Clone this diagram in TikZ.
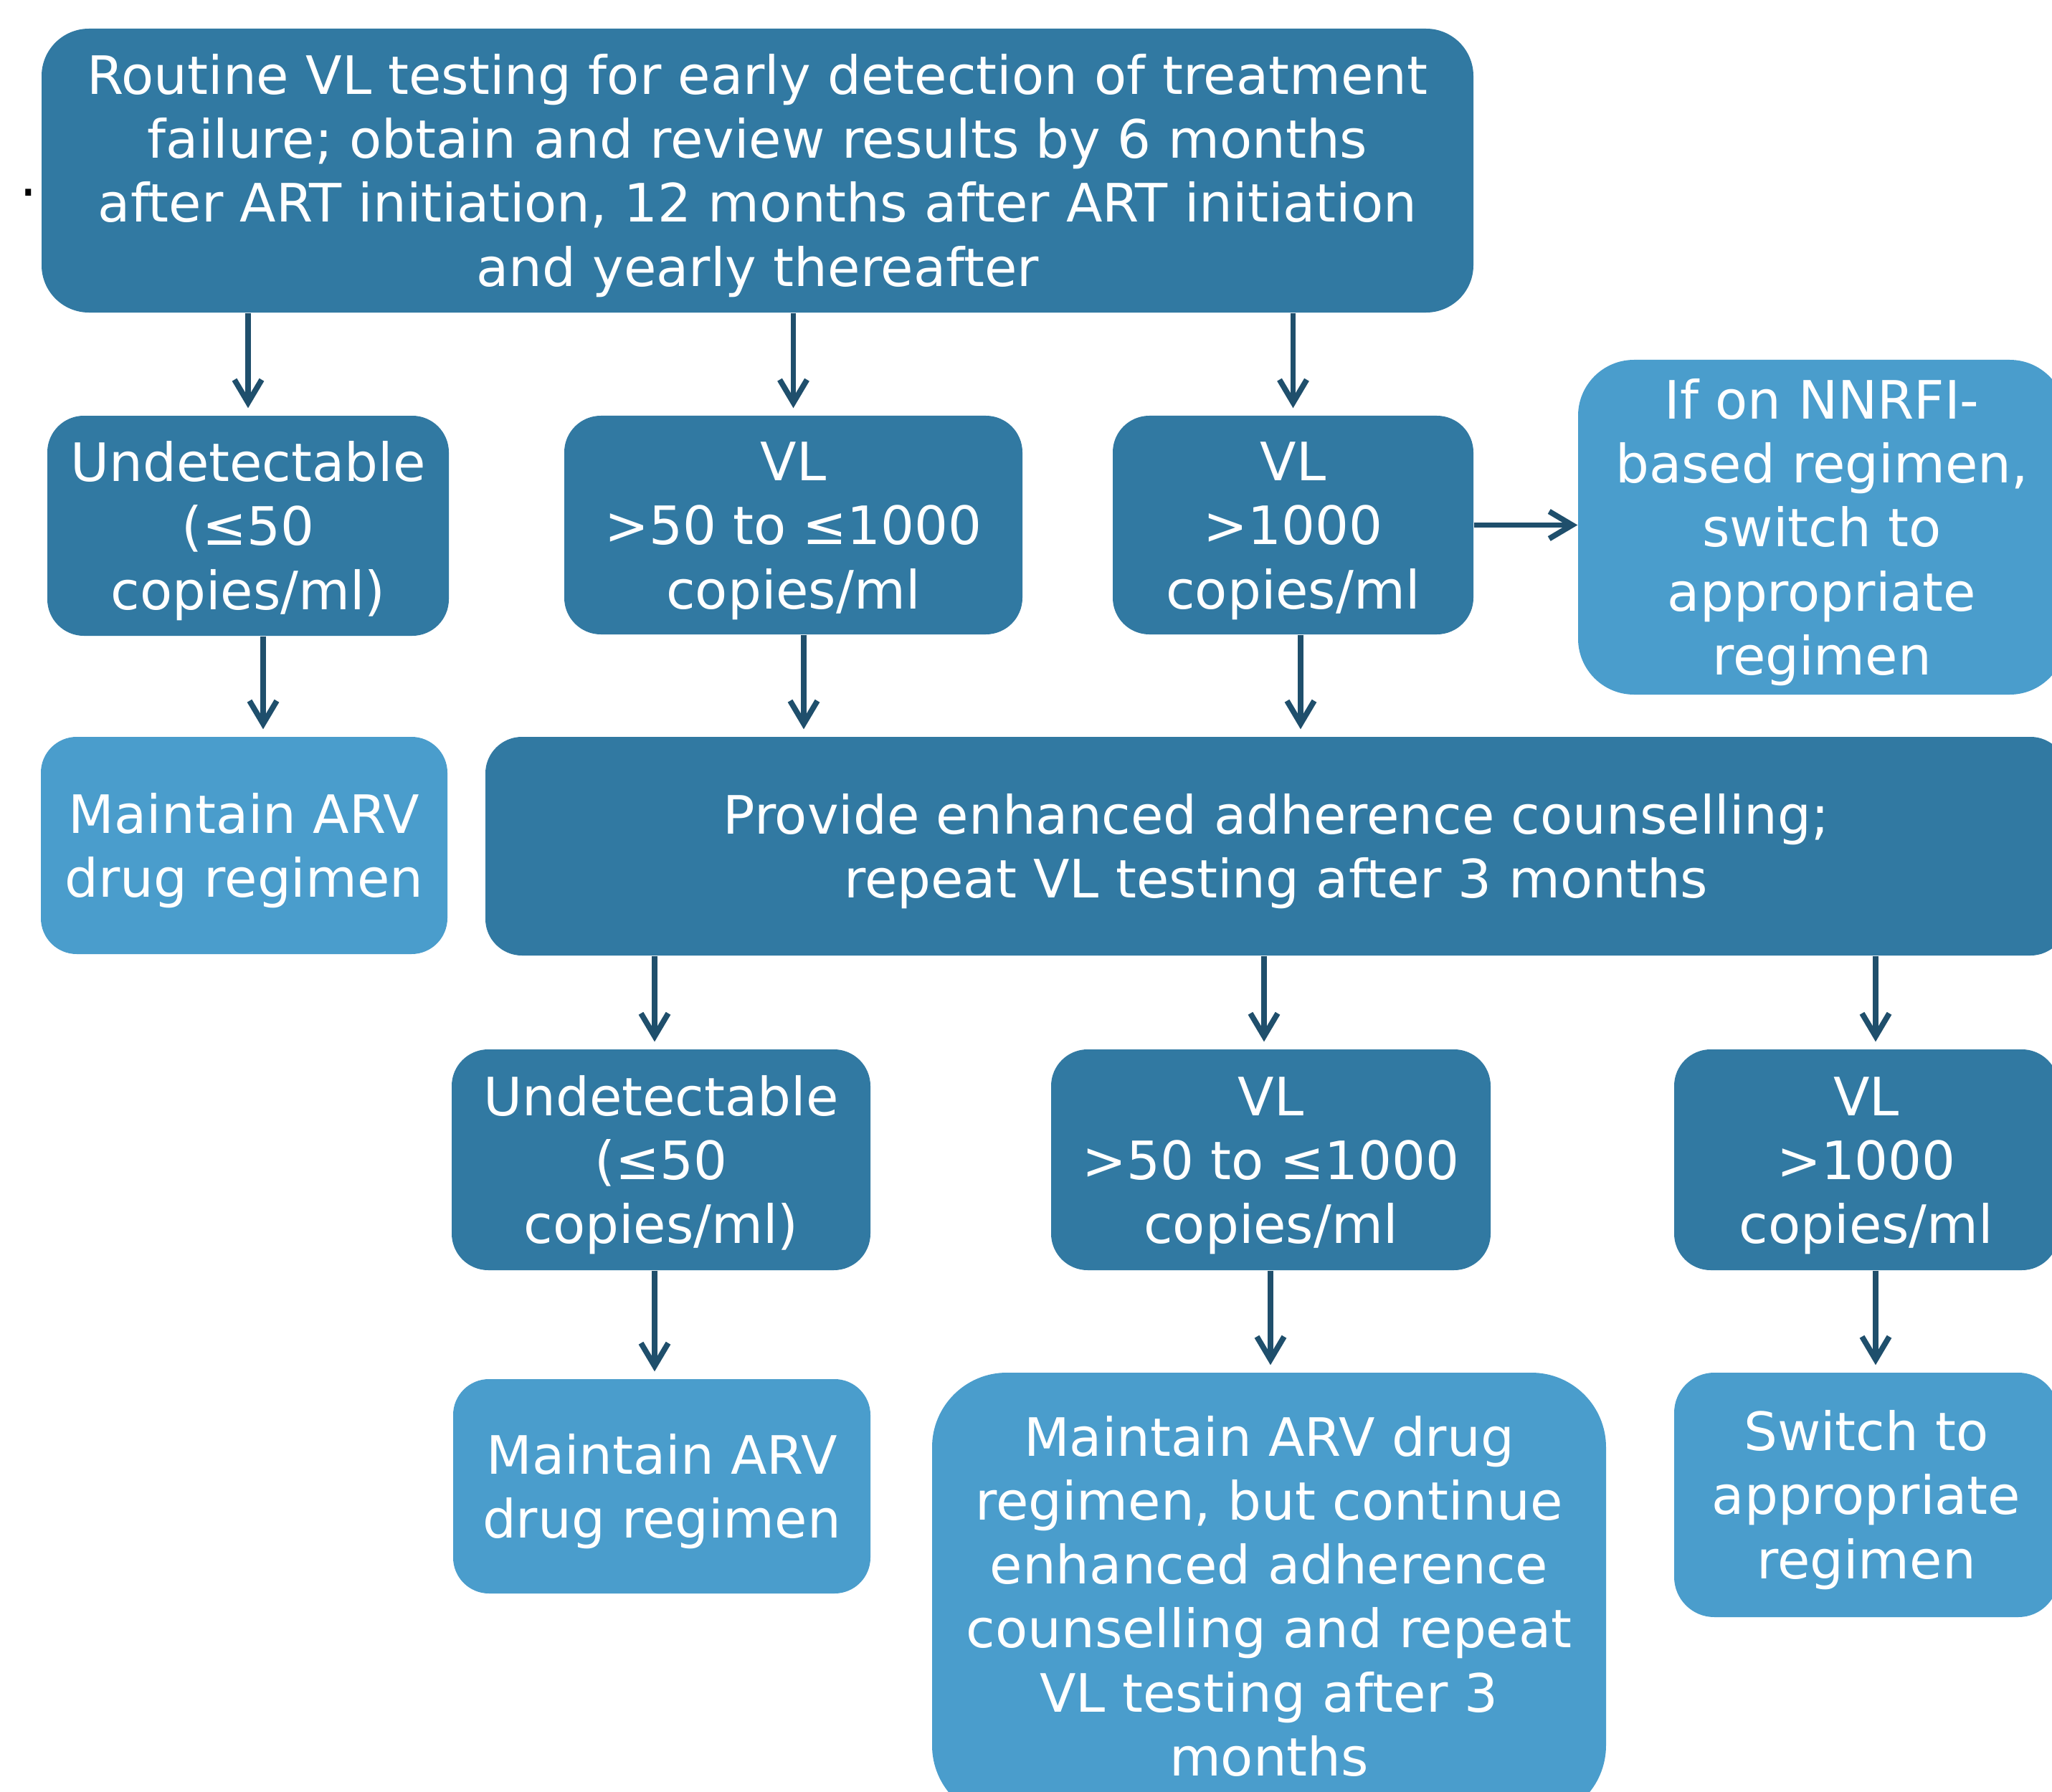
\documentclass[tikz,border=0pt]{standalone}
\usepackage{fontspec}
\setmainfont{DejaVu Sans}
\usetikzlibrary{arrows.meta}
\definecolor{vldark}{RGB}{49,121,162}
\definecolor{vllight}{RGB}{74,157,204}
\definecolor{vlarrow}{RGB}{31,79,108}
\newcommand{\boxfont}{\fontsize{21pt}{25.4pt}\selectfont}
% lines of a box, set a little below the middle
\newcommand{\vltext}[1]{\raisebox{-2.7pt}[\height][\depth]{\begin{tabular}{@{}c@{}}#1\end{tabular}}}
\tikzset{
  stage/.style={fill=vldark, text=white, inner sep=0pt, font=\boxfont},
  action/.style={stage, fill=vllight},
  flow/.style={-{Straight Barb[length=3.2mm, width=3.8mm]}, line width=2.2pt, color=vlarrow, shorten >=1mm},
}
\begin{document}
\begin{tikzpicture}
  \useasboundingbox (0,0) rectangle (28.62,-25);
  \clip (0,0) rectangle (28.62,-25);
  \fill[white] (0,0) rectangle (28.62,-25);

  \node[font=\fontsize{22pt}{22pt}\selectfont, anchor=base, inner sep=0pt] (dot) at (0.40,-2.74) {.};

  % first test
  \node[stage, minimum width=19.97cm, minimum height=3.96cm, rounded corners=6.6mm] (T) at (10.565,-2.38)
    {\vltext{Routine VL testing for early detection of treatment\\failure; obtain and review results by 6 months\\after ART initiation, 12 months after ART initiation\\and yearly thereafter}};
  \node[stage, minimum width=5.60cm, minimum height=3.07cm, rounded corners=5.1mm] (U1) at (3.46,-7.335)
    {\vltext{Undetectable\\(≤50\\copies/ml)}};
  \node[stage, minimum width=6.39cm, minimum height=3.05cm, rounded corners=5.1mm] (V1) at (11.065,-7.325)
    {\vltext{VL\\>50 to ≤1000\\copies/ml}};
  \node[stage, minimum width=5.03cm, minimum height=3.05cm, rounded corners=5.1mm] (W1) at (18.035,-7.325)
    {\vltext{VL\\>1000\\copies/ml}};
  \node[action, minimum width=6.80cm, minimum height=4.67cm, rounded corners=7.8mm] (N) at (25.41,-7.355)
    {\vltext{If on NNRFI-\\based regimen,\\switch to\\appropriate\\regimen}};

  % counselling
  \node[action, minimum width=5.67cm, minimum height=3.03cm, rounded corners=5mm] (M1) at (3.405,-11.795)
    {\vltext{Maintain ARV\\drug regimen}};
  \node[stage, minimum width=22.06cm, minimum height=3.05cm, rounded corners=5.1mm] (P) at (17.80,-11.805)
    {\vltext{Provide enhanced adherence counselling;\\repeat VL testing after 3 months}};

  % repeat test
  \node[stage, minimum width=5.84cm, minimum height=3.08cm, rounded corners=5.1mm] (U2) at (9.22,-16.18)
    {\vltext{Undetectable\\(≤50\\copies/ml)}};
  \node[stage, minimum width=6.13cm, minimum height=3.08cm, rounded corners=5.1mm] (V2) at (17.725,-16.18)
    {\vltext{VL\\>50 to ≤1000\\copies/ml}};
  \node[stage, minimum width=5.36cm, minimum height=3.08cm, rounded corners=5.1mm] (W2) at (26.03,-16.18)
    {\vltext{VL\\>1000\\copies/ml}};

  % outcomes
  \node[action, minimum width=5.82cm, minimum height=2.99cm, rounded corners=5mm] (M2) at (9.23,-20.735)
    {\vltext{Maintain ARV\\drug regimen}};
  \node[action, minimum width=9.40cm, minimum height=6.24cm, rounded corners=10.4mm] (C) at (17.70,-22.27)
    {\vltext{Maintain ARV drug\\regimen, but continue\\enhanced adherence\\counselling and repeat\\VL testing after 3\\months}};
  \node[action, minimum width=5.36cm, minimum height=3.41cm, rounded corners=5.6mm] (S) at (26.03,-20.855)
    {\vltext{Switch to\\appropriate\\regimen}};

  \draw[flow] (T.south -| U1) -- (U1.north);
  \draw[flow] (T.south -| V1) -- (V1.north);
  \draw[flow] (T.south -| W1) -- (W1.north);
  \draw[flow, shorten >=0pt] (W1.east) -- (W1.east -| N.west);
  \draw[flow] (3.67,0 |- U1.south) -- (3.67,0 |- M1.north);
  \draw[flow] (11.21,0 |- V1.south) -- (11.21,0 |- P.north);
  \draw[flow] (18.14,0 |- W1.south) -- (18.14,0 |- P.north);
  \draw[flow] (9.13,0 |- P.south) -- (9.13,0 |- U2.north);
  \draw[flow] (17.63,0 |- P.south) -- (17.63,0 |- V2.north);
  \draw[flow] (26.16,0 |- P.south) -- (26.16,0 |- W2.north);
  \draw[flow] (9.13,0 |- U2.south) -- (9.13,0 |- M2.north);
  \draw[flow] (17.72,0 |- V2.south) -- (17.72,0 |- C.north);
  \draw[flow] (26.16,0 |- W2.south) -- (26.16,0 |- S.north);
\end{tikzpicture}
\end{document}
